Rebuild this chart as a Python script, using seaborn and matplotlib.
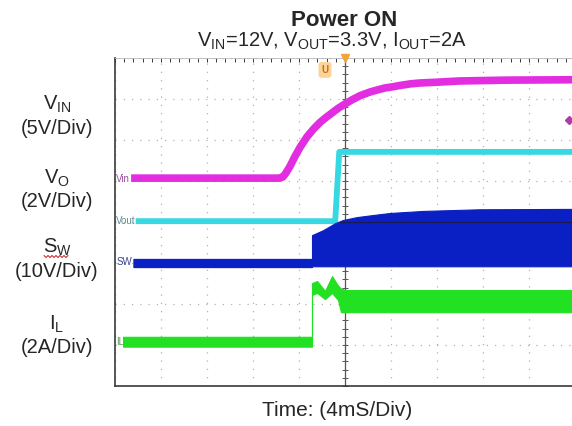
import numpy as np
import pandas as pd
import matplotlib.pyplot as plt
import seaborn as sns
from matplotlib.lines import Line2D
from matplotlib.ticker import MultipleLocator

# canvas in pixels (dpi 100)
W, H = 572, 426

# time axis in ms (4 ms/div), traces in scope divisions
VIN_T = [-18.6, -5.7, -5.4, -5.15, -4.78, -4.35, -3.91, -3.3, -2.7, -2.17, -1.65, -1.13, -0.61, 0.0,
         0.61, 1.3, 2.17, 2.8, 3.48, 4.2, 4.78, 5.7, 6.5, 8.0, 10.0, 14.0, 20.0]
VIN_DIV = [1.07, 1.07, 1.10, 1.19, 1.36, 1.60, 1.82, 2.08, 2.28, 2.43, 2.55, 2.66, 2.77, 2.88,
           2.98, 3.08, 3.17, 3.22, 3.27, 3.30, 3.33, 3.37, 3.39, 3.41, 3.44, 3.46, 3.47]

VOUT_T = [-18.2, -0.85, -0.50, 20.0]
VOUT_DIV = [0.02, 0.02, 1.71, 1.71]

SW_T = [-18.4, -2.87, -2.87, -1.91, -0.87, -0.17, 1.04, 2.43, 3.91, 6.78, 11.7, 20.0]
SW_TOP = [-0.90, -0.90, -0.32, -0.20, -0.03, 0.05, 0.12, 0.17, 0.22, 0.27, 0.31, 0.32]
SW_BOT = [-1.10, -1.10, -1.08, -1.08, -1.08, -1.08, -1.08, -1.08, -1.08, -1.08, -1.08, -1.08]

IL_T = [-19.3, -2.87, -2.87, -2.43, -1.74, -1.13, -0.61, -0.35, 0.0, 20.0]
IL_TOP = [-2.80, -2.80, -1.49, -1.44, -1.68, -1.32, -1.55, -1.62, -1.66, -1.66]
IL_BOT = [-3.04, -3.04, -1.78, -1.73, -1.88, -1.73, -1.90, -2.20, -2.20, -2.20]

TRACE_TAGS = ["Vin", "Vout", "SW", "IL"]
TAG_LEVELS = [1.04, 0.02, -0.98, -2.92]
TAG_COLORS = ["#9c4f9c", "#5d8e96", "#3b4690", "#5f9a5f"]

SCALE_NAMES = [r"V$_{\mathregular{IN}}$", r"V$_{\mathregular{O}}$", r"S$_{\mathregular{W}}$", r"I$_{\mathregular{L}}$"]
SCALE_TEXT = ["(5V/Div)", "(2V/Div)", "(10V/Div)", "(2A/Div)"]
NAME_BASE_PX = [110, 184, 253, 330]
SCALE_BASE_PX = [134, 207, 277, 353]

MAGENTA = "#e22ee0"
CYAN = "#36d8e2"
BLUE = "#0b20c4"
GREEN = "#22e022"
FRAME = "#3a3a3a"


def fx(px: float) -> float:
    return px / W


def fy(py: float) -> float:
    return 1 - py / H


def main() -> None:
    sns.set_theme(style="white")
    plt.rcParams["font.family"] = ["Liberation Sans", "DejaVu Sans"]
    plt.rcParams["mathtext.fontset"] = "custom"
    plt.rcParams["mathtext.rm"] = "Liberation Sans"

    fig = plt.figure(figsize=(W / 100, H / 100), dpi=100)
    ax = fig.add_axes([fx(115), fy(386), 460 / W, 328 / H])
    ax.set_xlim(-20, 20)
    ax.set_ylim(-4, 4)

    # graticule
    ax.set_xticks(np.arange(-20, 21, 4))
    ax.set_yticks(np.arange(-4, 5, 1))
    ax.xaxis.set_minor_locator(MultipleLocator(0.8))
    ax.yaxis.set_minor_locator(MultipleLocator(0.2))
    ax.grid(True, which="major", color="#b2b2b2", linestyle=(0, (1, 5.6)), linewidth=0.9)
    ax.tick_params(which="both", direction="in", length=3, width=0.7, color=FRAME,
                   labelbottom=False, labelleft=False, top=True, right=False)
    for side in ["left", "bottom"]:
        ax.spines[side].set_color(FRAME)
        ax.spines[side].set_linewidth(1.2)
    ax.spines["top"].set_color("#b8b8b8")
    ax.spines["top"].set_linewidth(0.6)
    ax.spines["right"].set_visible(False)

    ax.axvline(0, color="#555555", linewidth=0.9, zorder=1)
    ticks_y = np.arange(-4, 4.01, 0.2)
    ax.plot(np.zeros_like(ticks_y), ticks_y, ls="none", marker="_", ms=5, mew=0.7, color="#555555", zorder=1)

    # traces
    vin = pd.DataFrame({"t": VIN_T, "v": VIN_DIV})
    vout = pd.DataFrame({"t": VOUT_T, "v": VOUT_DIV})
    sns.lineplot(data=vin, x="t", y="v", ax=ax, color=MAGENTA, linewidth=5.5,
                 estimator=None, sort=False, zorder=3, solid_capstyle="butt", solid_joinstyle="round")
    sns.lineplot(data=vout, x="t", y="v", ax=ax, color=CYAN, linewidth=4.2,
                 estimator=None, sort=False, zorder=3, solid_capstyle="butt")
    ax.fill_between(SW_T, SW_BOT, SW_TOP, color=BLUE, linewidth=0.8, edgecolor=BLUE, zorder=4)
    ax.fill_between(IL_T, IL_BOT, IL_TOP, color=GREEN, linewidth=0.8, edgecolor=GREEN, zorder=4)
    ax.axhline(0, xmin=0.49, color="#1a1a50", linewidth=0.8, zorder=5)
    ax.set_xlabel("")
    ax.set_ylabel("")

    for tag, lvl, col in zip(TRACE_TAGS, TAG_LEVELS, TAG_COLORS):
        ax.text(-19.9, lvl, tag, color=col, fontsize=7, va="center", ha="left", zorder=6,
                family=["Liberation Sans Narrow", "Liberation Sans"])

    # scope markers
    ax.plot(0, 4, marker="v", color="#f2a43a", ms=6, clip_on=False, zorder=7)
    ax.text(-1.74, 3.71, "U", color="#c86f08", fontsize=7, fontweight="bold", ha="center", va="center",
            zorder=7, bbox=dict(boxstyle="round,pad=0.3", fc="#fcd39a", ec="none"))
    ax.plot(19.5, 2.49, marker="D", color="#b03aa8", ms=4, zorder=7)

    # titles and labels
    fig.text(fx(344), fy(26), "Power ON", ha="center", va="baseline", fontsize=16, fontweight="bold")
    fig.text(fx(332), fy(47),
             r"V$_{\mathregular{IN}}$=12V, V$_{\mathregular{OUT}}$=3.3V, I$_{\mathregular{OUT}}$=2A",
             ha="center", va="baseline", fontsize=14.5)
    fig.text(fx(337), fy(416.5), "Time: (4mS/Div)", ha="center", va="baseline", fontsize=15)

    for name, scale, nb, sb in zip(SCALE_NAMES, SCALE_TEXT, NAME_BASE_PX, SCALE_BASE_PX):
        fig.text(fx(57), fy(nb), name, ha="center", va="baseline", fontsize=14.5)
        fig.text(fx(57), fy(sb), scale, ha="center", va="baseline", fontsize=14.5)

    # spell-check squiggle under S_W
    sq_x = np.arange(44, 70, 2.0)
    sq_y = np.where(np.arange(sq_x.size) % 2 == 0, 255.5, 257.5)
    fig.add_artist(Line2D(fx(sq_x), fy(sq_y), color="#d03030", linewidth=0.8))

    fig.savefig("out.png", dpi=100)
    plt.close(fig)


if __name__ == "__main__":
    main()
